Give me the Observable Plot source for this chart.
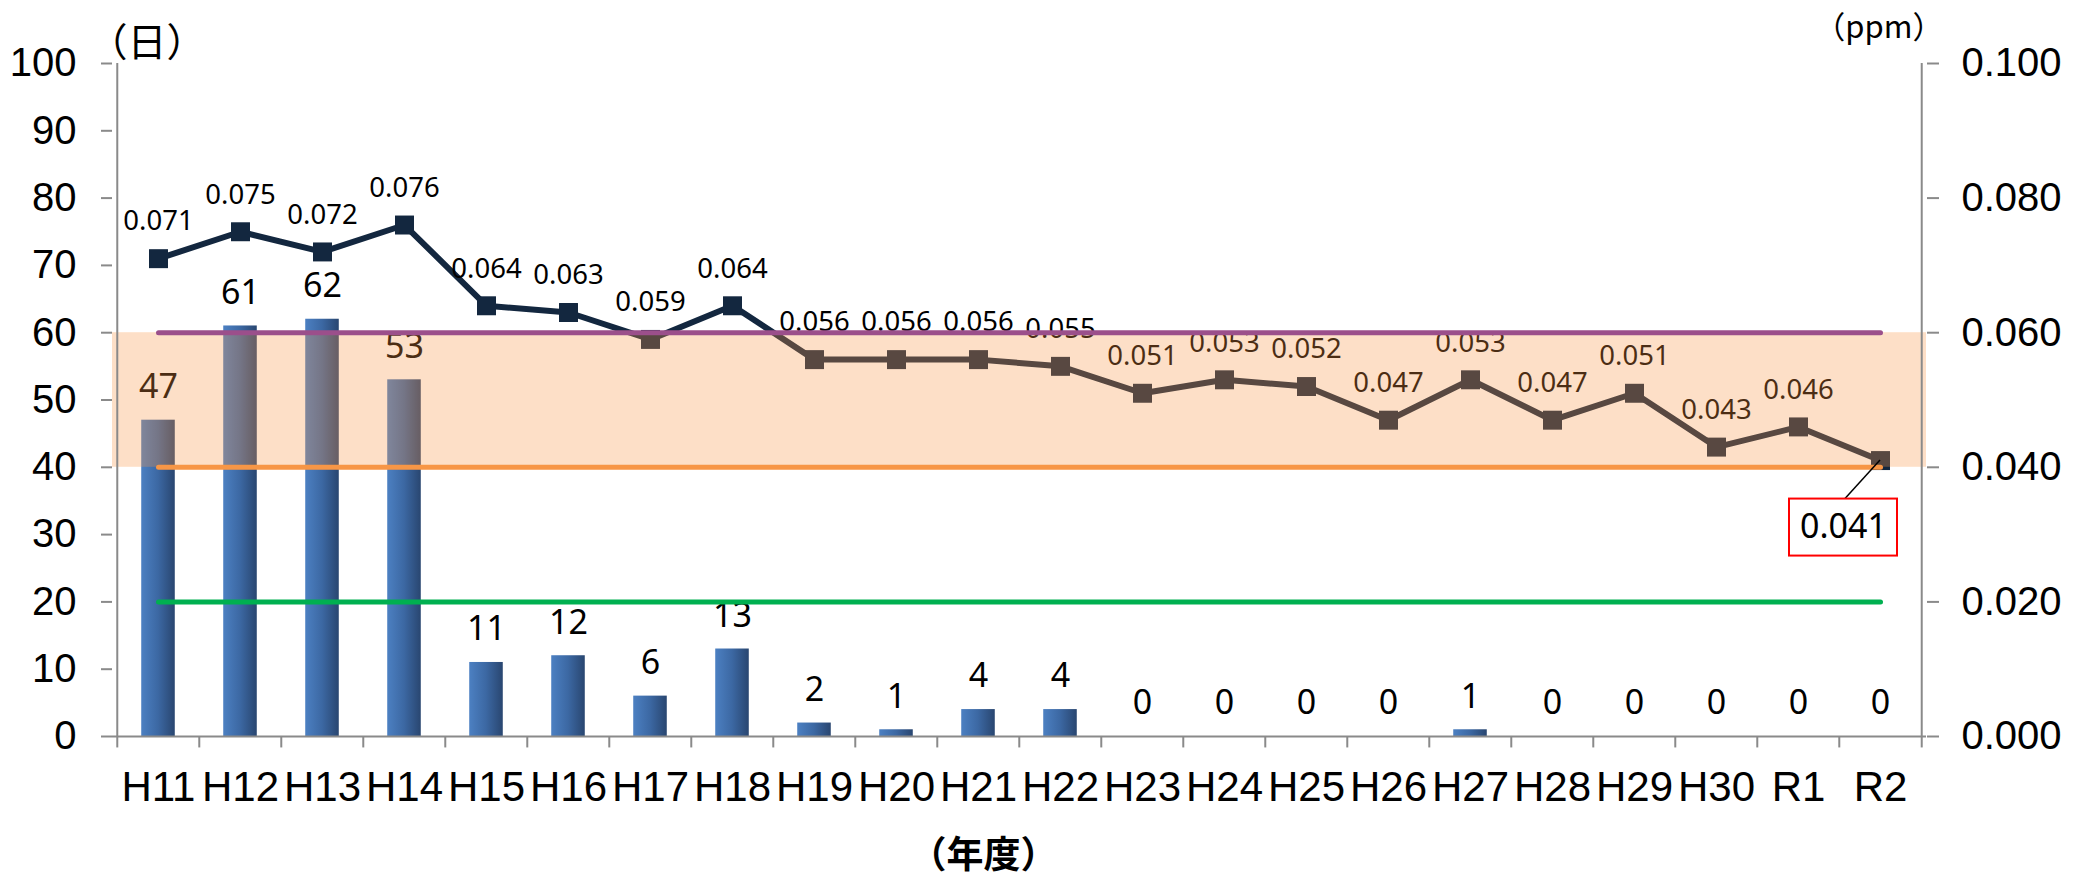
<!DOCTYPE html>
<html>
<head>
<meta charset="utf-8">
<script src="https://cdn.jsdelivr.net/npm/d3@7"></script>
<script src="https://cdn.jsdelivr.net/npm/@observablehq/plot@0.6"></script>
<style>
  html, body { margin: 0; padding: 0; background: #fff; }
  #chart svg { display: block; }
</style>
</head>
<body>
<div id="chart"></div>
<script>
// ---- data ----
const categories = ["H11","H12","H13","H14","H15","H16","H17","H18","H19","H20","H21","H22","H23","H24","H25","H26","H27","H28","H29","H30","R1","R2"];
const days = [47,61,62,53,11,12,6,13,2,1,4,4,0,0,0,0,1,0,0,0,0,0];
const ppm = [0.071,0.075,0.072,0.076,0.064,0.063,0.059,0.064,0.056,0.056,0.056,0.055,0.051,0.053,0.052,0.047,0.053,0.047,0.051,0.043,0.046,0.041];
const leftTicks = [0,10,20,30,40,50,60,70,80,90,100];
const rightTicks = [0.000,0.020,0.040,0.060,0.080,0.100];
const refLevels = [60,40,20];
const refColors = ["#9b4f8b","#f79646","#00b050"];
const bandRange = [40,60];
const leftUnit = "（日）";
const rightUnit = "（ppm）";
const xTitle = "（年度）";

// ---- layout ----
const W = 2085, H = 880;
const mL = 112, mR = 159, mT = 63, mB = 144;
const step = (W - mL - mR) / categories.length;
const ppmToDays = 1000; // 0.100 ppm ↔ 100 days on shared axis
const navy = "#13273f";
const gray = "#8a8a8a";

const rows = categories.map((c, i) => ({cat: c, days: days[i], ppm: ppm[i]}));
const lastRow = rows[rows.length - 1];
const labelRows = rows.slice(0, -1);

const defsMark = () => {
  const defs = d3.create("svg:defs");
  const g = defs.append("linearGradient").attr("id", "barGrad")
    .attr("x1", "0").attr("x2", "1").attr("y1", "0").attr("y2", "0");
  g.append("stop").attr("offset", "0%").attr("stop-color", "#4c80c2");
  g.append("stop").attr("offset", "50%").attr("stop-color", "#3c68a3");
  g.append("stop").attr("offset", "100%").attr("stop-color", "#294670");
  return defs.node();
};

const calloutMark = (index, scales) => {
  const x = scales.x(lastRow.cat) + scales.x.bandwidth() / 2;
  const y = scales.y(lastRow.ppm * ppmToDays);
  const g = d3.create("svg:g");
  const bx = x - 37, by = y + 67, bw = 108, bh = 57;
  g.append("line").attr("x1", x).attr("y1", y).attr("x2", bx + 2).attr("y2", by - bh / 2)
    .attr("stroke", "#000").attr("stroke-width", 1.5);
  g.append("rect").attr("x", bx - bw / 2).attr("y", by - bh / 2).attr("width", bw).attr("height", bh)
    .attr("fill", "#fff").attr("stroke", "#ff0000").attr("stroke-width", 2);
  return g.node();
};

const plot = Plot.plot({
  width: W, height: H,
  marginLeft: mL, marginRight: mR, marginTop: mT, marginBottom: mB,
  style: {background: "#fff", overflow: "visible"},
  x: {type: "band", domain: categories, padding: 0, label: null},
  y: {domain: [0, 100], label: null},
  marks: [
    defsMark,
    // bars
    Plot.barY(rows, {x: "cat", y: "days", fill: "url(#barGrad)", insetLeft: (step - 34) / 2, insetRight: (step - 34) / 2}),
    Plot.text(rows, {x: "cat", y: "days", text: d => String(d.days), dy: -33, fontSize: 34, fontFamily: "Noto Sans", fill: "#000"}),
    // ppm line
    Plot.line(rows, {x: "cat", y: d => d.ppm * ppmToDays, stroke: navy, strokeWidth: 6}),
    Plot.dot(rows, {x: "cat", y: d => d.ppm * ppmToDays, symbol: "square", r: 10.7, fill: navy, stroke: "none"}),
    Plot.text(labelRows, {x: "cat", y: d => d.ppm * ppmToDays, text: d => d.ppm.toFixed(3), dy: -37, fontSize: 27.5, fontFamily: "Noto Sans", fill: "#000"}),
    // translucent band
    Plot.rect([bandRange], {y1: d => d[0], y2: d => d[1], fill: "#f79646", fillOpacity: 0.3}),
    // reference lines
    ...refLevels.map((v, i) => Plot.line([categories[0], categories[categories.length - 1]], {x: d => d, y: () => v, stroke: refColors[i], strokeWidth: 5, strokeLinecap: "round"})),
    // axis lines
    Plot.ruleY([0], {stroke: gray, strokeWidth: 2}),
    Plot.ruleX([categories[0]], {x: d => d, dx: -step / 2, y1: 0, y2: 100, stroke: gray, strokeWidth: 2}),
    Plot.ruleX([categories[categories.length - 1]], {x: d => d, dx: step / 2, y1: 0, y2: 100, stroke: gray, strokeWidth: 2}),
    // x boundary ticks
    Plot.ruleX(categories, {x: d => d, dx: -step / 2, y1: 0, y2: -1.7, stroke: gray, strokeWidth: 2}),
    Plot.ruleX([categories[categories.length - 1]], {x: d => d, dx: step / 2, y1: 0, y2: -1.7, stroke: gray, strokeWidth: 2}),
    // axes
    Plot.axisX({tickSize: 0, tickPadding: 35, fontSize: 42, fontFamily: "Liberation Sans", fill: "#000", label: null}),
    Plot.axisY({anchor: "left", ticks: leftTicks, tickSize: 11, tickPadding: 25, fontSize: 40, fontFamily: "Liberation Sans", stroke: gray, strokeWidth: 2, fill: "#000", label: null}),
    Plot.axisY({anchor: "right", ticks: rightTicks.map(v => v * ppmToDays), tickFormat: d => (d / ppmToDays).toFixed(3), tickSize: 12, tickPadding: 23, fontSize: 40, fontFamily: "Liberation Sans", stroke: gray, strokeWidth: 2, fill: "#000", label: null}),
    // unit labels
    Plot.text([leftUnit], {frameAnchor: "top-left", text: d => d, textAnchor: "start", lineAnchor: "middle", dx: -24, dy: -20, fontSize: 39, fontFamily: "Noto Sans CJK JP", fill: "#000"}),
    Plot.text([rightUnit], {frameAnchor: "top-right", text: d => d, textAnchor: "end", lineAnchor: "middle", dx: 17, dy: -35, fontSize: 31, fontFamily: "Noto Sans CJK JP", fill: "#000"}),
    Plot.text([xTitle], {frameAnchor: "bottom", text: d => d, lineAnchor: "middle", dx: -36, dy: 120, fontSize: 37, fontWeight: "bold", fontFamily: "Noto Sans CJK JP", fill: "#000"}),
    // callout
    calloutMark,
    Plot.text([lastRow], {x: "cat", y: d => d.ppm * ppmToDays, text: d => d.ppm.toFixed(3), dx: -37, dy: 67, fontSize: 34, fontFamily: "Noto Sans", fill: "#000"})
  ]
});
document.getElementById("chart").appendChild(plot);
</script>
</body>
</html>
